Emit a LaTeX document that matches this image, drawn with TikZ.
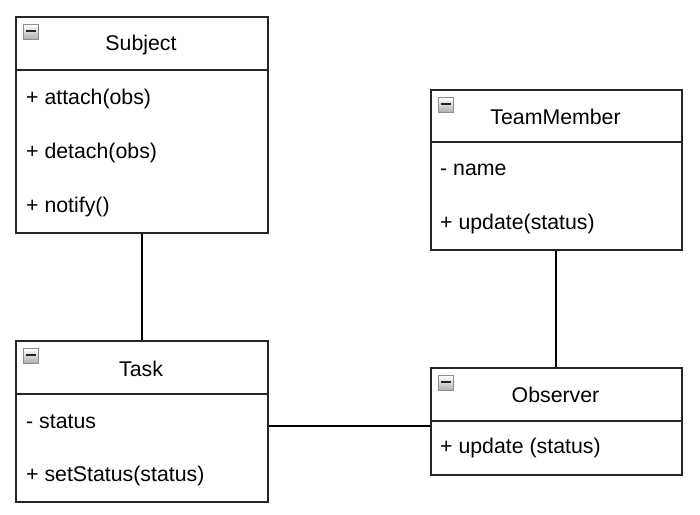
\documentclass[tikz,border=0pt]{standalone}
\usepackage{fontspec}
\setmainfont{Liberation Sans}
\begin{document}
\begin{tikzpicture}[x=1pt,y=-1pt,
  classbox/.style={draw=black!85, line width=1.7pt, fill=white, inner sep=0pt, anchor=north west},
  divider/.style={draw=black!85, line width=1.7pt},
  conn/.style={draw=black, line width=1.7pt},
  title/.style={font=\fontsize{21.3}{25}\selectfont, inner sep=0pt, anchor=center},
  member/.style={font=\fontsize{21.3}{25}\selectfont, inner sep=0pt, anchor=west},
  icon/.style={draw=gray!90, line width=0.9pt, top color=white, bottom color=gray!65, minimum size=15pt, inner sep=0pt,
    path picture={\draw[line width=2.2pt, black!85] ([xshift=2.8pt,yshift=1pt]path picture bounding box.west) -- ([xshift=-2.8pt,yshift=1pt]path picture bounding box.east);}}
]
\useasboundingbox (0,0) rectangle (700,514);

% Subject
\node[classbox, minimum width=252pt, minimum height=216pt] (subject) at (15,16) {};
\draw[divider] (subject.west |- 0,70) -- (subject.east |- 0,70);
\node[icon] (subjecticon) at (31,32) {};
\node[title] (subjecttitle) at (141,45) {Subject};
\node[member] (s1) at (26,99) {+ attach(obs)};
\node[member] (s2) at (26,153) {+ detach(obs)};
\node[member] (s3) at (26,207) {+ notify()};

% TeamMember
\node[classbox, minimum width=251pt, minimum height=160pt] (team) at (430,89) {};
\draw[divider] (team.west |- 0,142) -- (team.east |- 0,142);
\node[icon] (teamicon) at (446,105) {};
\node[title] (teamtitle) at (555.5,117) {TeamMember};
\node[member] (t1) at (440,170) {- name};
\node[member] (t2) at (440,224) {+ update(status)};

% Task
\node[classbox, minimum width=252pt, minimum height=161pt] (task) at (15,340) {};
\draw[divider] (task.west |- 0,394) -- (task.east |- 0,394);
\node[icon] (taskicon) at (31,356) {};
\node[title] (tasktitle) at (141,369) {Task};
\node[member] (k1) at (26,422) {- status};
\node[member] (k2) at (26,476) {+ setStatus(status)};

% Observer
\node[classbox, minimum width=251pt, minimum height=107pt] (observer) at (430,367) {};
\draw[divider] (observer.west |- 0,421) -- (observer.east |- 0,421);
\node[icon] (obsicon) at (446,383) {};
\node[title] (obstitle) at (555.5,395) {Observer};
\node[member] (o1) at (440,448) {+ update (status)};

% connectors
\draw[conn] (subject.south) -- (task.north);
\draw[conn] ([xshift=-0.5pt]team.south) -- ([xshift=-0.5pt]observer.north);
\draw[conn] ([yshift=-4.5pt]task.east) -- ([yshift=-4.5pt]observer.west);
\end{tikzpicture}
\end{document}
